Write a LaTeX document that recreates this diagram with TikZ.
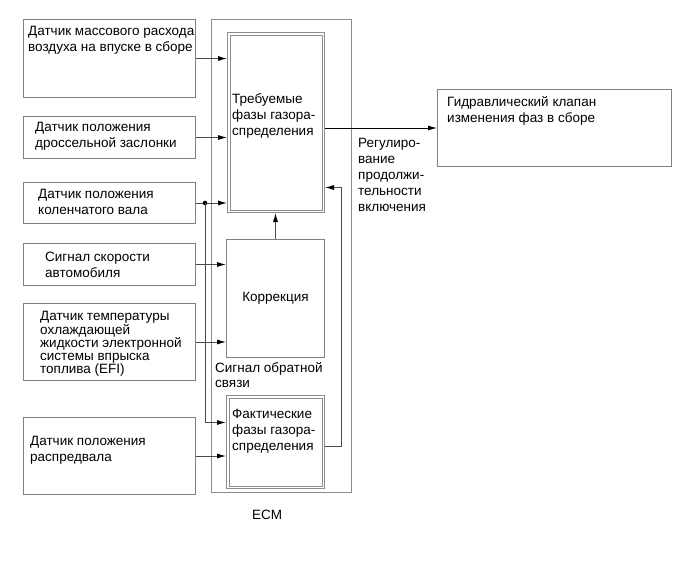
\documentclass[tikz,border=0pt]{standalone}
\usepackage{fontspec}
\setmainfont{Liberation Sans}
\usetikzlibrary{positioning, arrows.meta}

\begin{document}
\begin{tikzpicture}[x=1pt, y=-1pt,
  every node/.style={inner sep=0pt, font=\fontsize{13.5}{15.8}\selectfont},
  sensor/.style={draw=black!50, line width=1pt, rectangle, anchor=north west},
  dblbox/.style={draw=black!45, line width=1pt, rectangle, anchor=north west},
  inset/.style={draw=black!45, line width=1pt},
  txt/.style={anchor=west, align=left},
  arrow/.style={-{Latex[length=9pt, width=5pt, color=black]},
                black!70, line width=0.9pt}]
\useasboundingbox (0,0) rectangle (687,566);

% ECM housing
\node[draw=black!45, line width=1pt, rectangle, anchor=north west,
      minimum width=140pt, minimum height=473pt] (ecm) at (211,19) {};
\node (ecm-t) at (267,515) {ECM};

% sensors
\node[sensor, minimum width=172pt, minimum height=78pt] (maf) at (23,19) {};
\node[txt] (maf-t) at (28,40) {Датчик массового расхода\\воздуха на впуске в сборе};
\node[sensor, minimum width=172pt, minimum height=42pt] (tps) at (23,116) {};
\node[txt] (tps-t) at (35,136) {Датчик положения\\дроссельной заслонки};
\node[sensor, minimum width=172pt, minimum height=41pt] (ckp) at (23,182) {};
\node[txt] (ckp-t) at (38,202) {Датчик положения\\коленчатого вала};
\node[sensor, minimum width=172pt, minimum height=42pt] (vss) at (23,243) {};
\node[txt] (vss-t) at (45,265) {Сигнал скорости\\автомобиля};
\node[sensor, minimum width=172pt, minimum height=77pt] (ect) at (23,303) {};
\node[txt, font=\fontsize{13.5}{13.2}\selectfont] (ect-t) at (40,344)
  {Датчик температуры\\охлаждающей\\жидкости электронной\\системы впрыска\\топлива (EFI)};
\node[sensor, minimum width=172pt, minimum height=77pt] (cmp) at (23,417) {};
\node[txt] (cmp-t) at (30,450) {Датчик положения\\распредвала};

% ECM blocks
\node[dblbox, minimum width=97pt, minimum height=180pt] (target) at (227,32) {};
\draw[inset] ([shift={(3,3)}]target.north west) rectangle ([shift={(-3,-3)}]target.south east);
\node[txt] (target-t) at (232,116) {Требуемые\\фазы газора-\\спределения};
\node[sensor, minimum width=98pt, minimum height=118pt] (corr) at (226,239) {};
\node (corr-t) at (corr.center) {Коррекция};
\node[dblbox, minimum width=98pt, minimum height=93pt] (actual) at (226,395) {};
\draw[inset] ([shift={(3,3)}]actual.north west) rectangle ([shift={(-3,-3)}]actual.south east);
\node[txt] (actual-t) at (232,431) {Фактические\\фазы газора-\\спределения};

% valve
\node[sensor, minimum width=234pt, minimum height=77pt] (ocv) at (437,89) {};
\node[txt] (ocv-t) at (447,111) {Гидравлический клапан\\изменения фаз в сборе};

% labels
\node[txt] (duty) at (358,175)
  {Регулиро-\\вание\\продолжи-\\тельности\\включения};
\node[txt, font=\fontsize{13.5}{14.5}\selectfont] (fb) at (215,375)
  {Сигнал обратной\\связи};

% connectors
\draw[arrow] (maf.east) -- (maf.east -| target.west);
\draw[arrow] (tps.east) -- (tps.east -| target.west);
\coordinate (branch) at ([xshift=9pt]ckp.east);
\draw[arrow] (ckp.east) -- (ckp.east -| target.west);
\fill (branch) circle (2.3pt);
\draw[arrow] (branch) |- ([yshift=19.5pt]actual.west);
\draw[arrow] (vss.east) -- (vss.east -| corr.west);
\draw[arrow] (ect.east) -- (ect.east -| corr.west);
\draw[arrow] (cmp.east) -- (cmp.east -| actual.west);
\draw[arrow] (corr.north) -- (corr.north |- target.south);
\coordinate (fbturn) at ([xshift=16pt, yshift=-4.5pt]actual.east);
\draw[arrow] ([yshift=-4.5pt]actual.east) -- (fbturn) |- ([yshift=-65pt]target.east);
\draw[arrow, black] (target.east |- ocv.west) -- (ocv.west);
\end{tikzpicture}
\end{document}
